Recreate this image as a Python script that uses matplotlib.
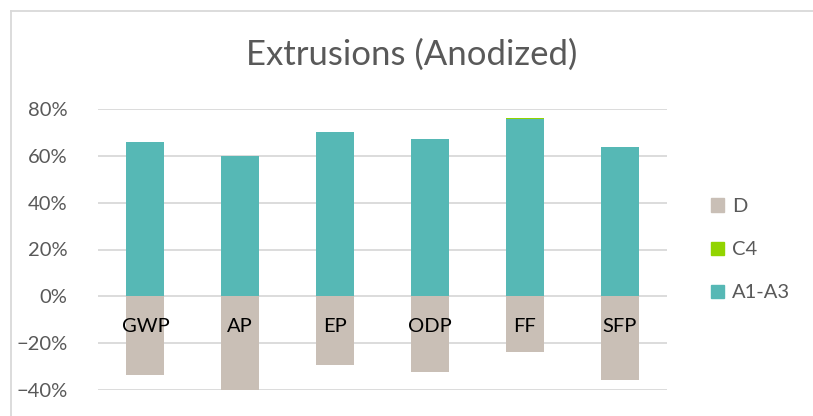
import numpy as np
import matplotlib; matplotlib.use('Agg')
import matplotlib.pyplot as plt
from matplotlib.ticker import PercentFormatter
from matplotlib.lines import Line2D

categories = ['GWP', 'AP', 'EP', 'ODP', 'FF', 'SFP']
a1_a3 = [0.660, 0.600, 0.702, 0.671, 0.758, 0.637]
c4 = [0.001, 0.001, 0.001, 0.001, 0.0015, 0.001]
d = [-0.337, -0.398, -0.294, -0.324, -0.237, -0.359]

teal = '#56B8B5'
green = '#92D400'
beige = '#C9BFB6'
grey_txt = '#595959'

plt.rcParams['font.family'] = ['Lato', 'DejaVu Sans']

fig = plt.figure(figsize=(8.13, 4.16), dpi=100)
ax = fig.add_axes([98/813, 26/416, 569/813, 281/416])

x = np.arange(len(categories))
w = 0.4
ax.bar(x, a1_a3, w, color=teal, label='A1-A3', zorder=3)
ax.bar(x, c4, w, bottom=a1_a3, color=green, label='C4', zorder=3)
ax.bar(x, d, w, color=beige, label='D', zorder=3)

ax.set_ylim(-0.4, 0.8)
ax.set_xlim(-0.5, len(categories) - 0.5)
ax.set_yticks(np.arange(-0.4, 0.81, 0.2))
ax.yaxis.set_major_formatter(PercentFormatter(1.0, decimals=0))
ax.grid(axis='y', color='#D9D9D9', linewidth=1.3, zorder=0)
for s in ax.spines.values():
    s.set_visible(False)
ax.set_xticks([])
ax.tick_params(axis='y', length=0, pad=22, labelsize=14.5, labelcolor=grey_txt)

# category labels sit just under the zero line, over the D bars
for i, cat in enumerate(categories):
    ax.annotate(cat, xy=(i, 0), xytext=(0, -22), textcoords='offset points',
                ha='center', va='center', fontsize=14.5, color='black', zorder=5)

fig.text(412/813, 1 - 55/416, 'Extrusions (Anodized)', ha='center', va='center',
         fontsize=25, color=grey_txt)

handles = [plt.Rectangle((0, 0), 1, 1, color=c) for c in (beige, green, teal)]
leg = fig.legend(handles, ['D', 'C4', 'A1-A3'], loc='upper left',
                 bbox_to_anchor=(693/813, 1 - 180/416), frameon=False,
                 fontsize=14.5, labelcolor=grey_txt, handlelength=0.65,
                 handleheight=0.65, handletextpad=0.4, labelspacing=1.3)

# chart border (top and left edges visible in the crop)
fig.add_artist(Line2D([11/813, 1], [1 - 11/416, 1 - 11/416], color='#D9D9D9', lw=1.3))
fig.add_artist(Line2D([11/813, 11/813], [0, 1 - 11/416], color='#D9D9D9', lw=1.3))

fig.savefig('out.png', dpi=100)
